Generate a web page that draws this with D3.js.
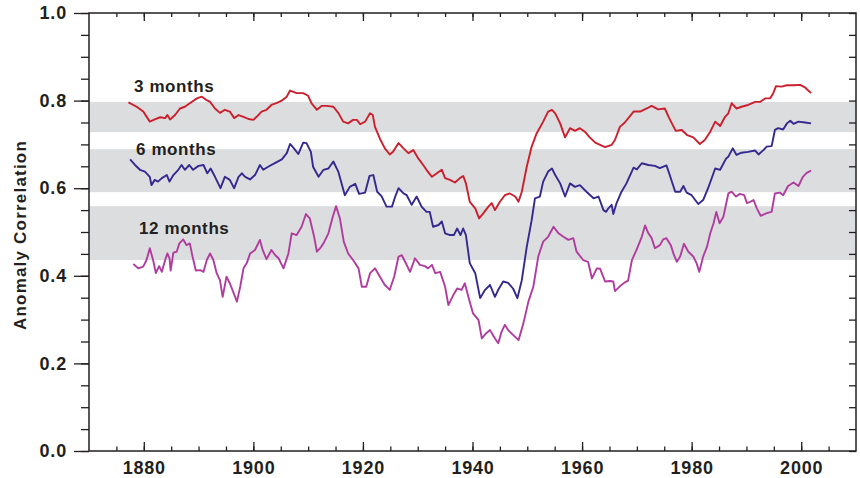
<!DOCTYPE html>
<html>
<head>
<meta charset="utf-8">
<script src="https://cdn.jsdelivr.net/npm/d3@7"></script>
<style>
  html, body { margin: 0; padding: 0; background: #fff; }
  svg { display: block; }
  text { font-family: "Liberation Sans", Arial, Helvetica, sans-serif; font-weight: bold; fill: #231f20; }
</style>
</head>
<body>
<svg id="chart" width="860" height="478"></svg>
<script>
// ---------------- data ----------------
const seriesNames = ["3 months", "6 months", "12 months"];

const years3 = [1877.2,1878.7,1879.9,1881.1,1882.0,1883.0,1883.9,1884.3,1884.8,1885.7,1886.6,1887.5,1888.4,1889.7,1890.6,1891.5,1892.1,1893.0,1893.9,1894.8,1895.7,1896.5,1897.3,1898.2,1899.1,1900.0,1900.6,1901.5,1902.4,1903.3,1904.3,1905.2,1906.1,1906.7,1907.3,1907.9,1909.1,1910.0,1910.6,1911.6,1912.5,1913.4,1914.6,1915.5,1916.4,1917.3,1918.2,1918.9,1919.5,1920.4,1921.3,1921.8,1922.2,1923.1,1924.0,1924.9,1925.5,1926.5,1927.4,1928.3,1929.2,1930.1,1931.0,1931.6,1932.6,1933.5,1934.4,1935.0,1935.9,1936.8,1937.7,1938.3,1938.8,1939.5,1940.5,1941.2,1942.0,1942.9,1943.5,1944.1,1945.0,1945.9,1946.8,1947.8,1948.4,1949.0,1949.9,1950.8,1951.7,1952.9,1953.8,1954.5,1955.1,1956.0,1956.9,1957.8,1958.7,1959.6,1960.5,1961.4,1962.4,1963.3,1964.2,1965.4,1966.0,1966.9,1967.8,1969.4,1970.6,1971.8,1972.7,1973.9,1975.1,1975.9,1977.1,1978.2,1979.2,1980.3,1981.5,1982.4,1983.4,1984.3,1985.2,1986.1,1986.7,1987.3,1988.2,1989.1,1990.3,1991.6,1992.5,1993.4,1994.3,1994.9,1995.4,1996.4,1997.4,1998.6,1999.8,2000.7,2001.8];
const vals3 = [.796,.786,.775,.752,.757,.762,.760,.767,.757,.767,.782,.786,.794,.805,.809,.801,.797,.782,.772,.779,.775,.760,.767,.763,.758,.756,.763,.775,.779,.790,.795,.800,.809,.823,.820,.817,.817,.811,.794,.779,.788,.788,.786,.772,.752,.748,.756,.756,.746,.752,.771,.767,.740,.713,.691,.677,.683,.703,.691,.680,.687,.668,.653,.642,.626,.634,.642,.623,.619,.613,.623,.628,.611,.569,.554,.531,.543,.558,.566,.550,.569,.584,.588,.581,.569,.592,.649,.695,.725,.752,.775,.779,.771,.748,.716,.737,.731,.737,.729,.716,.704,.699,.694,.699,.710,.740,.750,.775,.775,.782,.788,.780,.782,.760,.731,.733,.721,.716,.701,.710,.729,.752,.742,.763,.771,.794,.782,.786,.790,.797,.797,.805,.805,.817,.833,.832,.835,.835,.836,.830,.817];

const years6 = [1877.5,1878.4,1879.3,1880.2,1881.1,1881.4,1882.0,1882.6,1883.3,1884.2,1884.7,1885.4,1886.3,1886.9,1887.5,1888.3,1889.0,1890.0,1890.9,1891.6,1892.2,1893.0,1894.0,1894.8,1895.7,1896.5,1897.3,1897.9,1898.5,1899.4,1900.3,1901.2,1901.8,1902.7,1904.0,1905.2,1906.1,1906.7,1907.4,1908.2,1909.1,1909.7,1910.5,1910.9,1911.9,1912.8,1913.7,1914.6,1915.5,1916.7,1917.6,1918.6,1919.3,1920.4,1921.2,1921.9,1922.6,1923.4,1924.3,1925.3,1925.9,1926.5,1927.4,1928.0,1928.9,1929.8,1930.7,1931.6,1932.2,1932.8,1933.8,1934.4,1935.0,1935.9,1936.6,1937.2,1937.8,1938.3,1938.8,1939.5,1940.5,1941.4,1942.3,1943.2,1944.1,1944.7,1945.6,1946.5,1947.4,1948.2,1949.0,1949.9,1950.8,1951.4,1952.3,1952.9,1953.8,1954.5,1955.1,1956.0,1956.9,1957.8,1958.7,1959.6,1960.8,1962.1,1963.0,1963.9,1964.4,1964.8,1965.4,1965.7,1966.3,1967.2,1968.1,1969.4,1970.0,1970.9,1972.1,1973.3,1974.2,1975.4,1976.0,1977.0,1977.9,1978.5,1979.1,1980.0,1981.2,1982.1,1983.0,1984.3,1985.2,1986.3,1986.7,1987.5,1988.2,1989.1,1990.3,1991.6,1992.2,1993.1,1993.7,1994.6,1995.2,1995.8,1996.7,1997.4,1998.0,1998.6,1999.5,2000.7,2001.8];
const vals6 = [.666,.653,.642,.638,.626,.607,.619,.615,.623,.630,.615,.630,.642,.653,.642,.653,.642,.651,.653,.634,.645,.626,.600,.626,.619,.600,.626,.634,.626,.620,.630,.653,.642,.649,.658,.666,.680,.701,.691,.678,.704,.703,.683,.649,.626,.642,.645,.661,.638,.584,.603,.610,.587,.590,.628,.630,.592,.582,.558,.558,.581,.600,.588,.584,.562,.581,.558,.546,.546,.512,.516,.524,.497,.493,.493,.508,.493,.508,.493,.429,.406,.349,.368,.379,.352,.368,.387,.384,.371,.349,.390,.466,.527,.577,.581,.615,.638,.645,.630,.611,.581,.611,.603,.607,.592,.577,.581,.550,.546,.554,.562,.541,.566,.592,.611,.647,.643,.657,.653,.651,.646,.652,.630,.592,.592,.605,.590,.584,.564,.573,.600,.645,.642,.668,.672,.691,.676,.681,.683,.686,.677,.687,.695,.696,.733,.737,.734,.748,.754,.747,.752,.750,.748];

const years12 = [1878.1,1879.0,1879.9,1880.5,1881.1,1881.7,1882.2,1882.8,1883.3,1883.9,1884.3,1884.7,1884.9,1885.4,1886.0,1886.5,1887.2,1887.8,1888.4,1888.9,1889.5,1890.3,1890.9,1891.5,1892.1,1892.7,1893.3,1893.9,1894.4,1895.1,1895.7,1896.3,1897.0,1897.6,1898.2,1898.8,1899.4,1900.3,1901.2,1901.7,1902.4,1903.3,1904.0,1904.6,1905.5,1906.4,1907.0,1907.9,1908.8,1909.6,1910.3,1911.1,1911.6,1912.2,1912.8,1913.7,1914.5,1915.1,1915.8,1916.5,1917.3,1918.2,1919.2,1919.8,1920.6,1921.3,1922.2,1923.1,1924.0,1924.9,1925.7,1926.5,1927.1,1927.7,1928.6,1929.5,1930.4,1931.3,1931.9,1932.6,1933.2,1934.1,1935.0,1935.6,1936.5,1937.2,1938.0,1938.6,1939.4,1940.1,1941.1,1941.7,1942.5,1943.2,1944.1,1944.7,1945.3,1945.9,1946.5,1947.4,1948.4,1949.3,1950.2,1951.1,1952.0,1952.9,1953.8,1954.8,1955.7,1956.6,1957.5,1958.4,1959.0,1960.2,1961.1,1961.8,1962.7,1963.3,1964.2,1965.1,1965.7,1966.0,1966.9,1967.8,1968.4,1969.1,1969.9,1970.9,1971.5,1972.1,1972.7,1973.3,1974.2,1974.8,1975.4,1976.2,1976.7,1977.3,1977.9,1978.6,1979.4,1980.3,1980.9,1981.4,1982.1,1982.8,1983.4,1984.0,1984.5,1985.1,1985.8,1986.7,1987.3,1988.1,1988.8,1989.6,1990.1,1990.7,1991.3,1991.9,1992.6,1993.7,1994.6,1995.2,1996.1,1996.7,1997.6,1998.6,1999.5,2000.3,2001.0,2001.8];
const vals12 = [.427,.417,.421,.436,.463,.436,.406,.422,.409,.436,.451,.440,.412,.453,.455,.474,.483,.470,.474,.444,.412,.413,.409,.436,.451,.436,.406,.390,.352,.398,.383,.364,.341,.375,.417,.429,.451,.459,.482,.459,.438,.459,.447,.440,.417,.451,.497,.493,.512,.541,.531,.489,.455,.463,.474,.497,.535,.559,.531,.478,.451,.436,.417,.375,.375,.406,.417,.398,.379,.368,.398,.444,.447,.432,.409,.440,.425,.422,.417,.425,.406,.409,.375,.333,.356,.371,.368,.383,.345,.314,.299,.257,.269,.276,.257,.246,.272,.288,.276,.265,.253,.292,.341,.375,.444,.478,.489,.512,.497,.489,.482,.486,.455,.436,.432,.394,.417,.416,.387,.388,.387,.365,.376,.385,.389,.436,.458,.489,.515,.497,.486,.463,.470,.483,.486,.470,.450,.432,.444,.473,.455,.444,.429,.409,.444,.466,.497,.520,.546,.520,.535,.588,.592,.581,.587,.584,.566,.569,.573,.554,.537,.543,.546,.588,.590,.584,.605,.613,.605,.626,.635,.640];

// grey skill bands (low, high) for each lead time
const bandLow  = [0.728, 0.591, 0.436];
const bandHigh = [0.797, 0.689, 0.559];

const yTickLabels = ["0.0", "0.2", "0.4", "0.6", "0.8", "1.0"];
const xTickLabels = ["1880", "1900", "1920", "1940", "1960", "1980", "2000"];

// ---------------- drawing ----------------
const ink = "#231f20";
const colors = ["#cc1f2d", "#33298f", "#b03d9e"];
const W = 860, H = 478;
const margin = { left: 89, right: 4, top: 13, bottom: 27 };

const svg = d3.select("#chart");
const x = d3.scaleLinear().domain([1870, 2010]).range([margin.left, W - margin.right]);
const y = d3.scaleLinear().domain([0, 1]).range([H - margin.bottom, margin.top]);

const x0 = x.range()[0], x1 = x.range()[1], y0 = y.range()[0], y1 = y.range()[1];

// bands
svg.append("g").selectAll("rect").data(bandLow).join("rect")
  .attr("x", x0).attr("width", x1 - x0)
  .attr("y", (d, i) => y(bandHigh[i]))
  .attr("height", (d, i) => y(d) - y(bandHigh[i]))
  .attr("fill", "#dcdddf");

// lines
const allSeries = [
  years3.map((yr, i) => [yr, vals3[i]]),
  years6.map((yr, i) => [yr, vals6[i]]),
  years12.map((yr, i) => [yr, vals12[i]])
];
const line = d3.line().x(d => x(d[0])).y(d => y(d[1]));
svg.append("g").selectAll("path").data(allSeries).join("path")
  .attr("d", line)
  .attr("fill", "none")
  .attr("stroke", (d, i) => colors[i])
  .attr("stroke-width", 1.9)
  .attr("stroke-linejoin", "round");

// series labels
const labelPos = [[134, 92], [136, 155], [139, 234]];
svg.append("g").selectAll("text").data(seriesNames).join("text")
  .attr("x", (d, i) => labelPos[i][0])
  .attr("y", (d, i) => labelPos[i][1])
  .style("font-size", "17px")
  .style("letter-spacing", "0.6px")
  .text(d => d);

// axes
function styleAxis(g) {
  g.select(".domain").remove();
  g.selectAll("line").attr("stroke", ink).attr("stroke-width", 1.3);
  g.selectAll("text").style("font-size", "18px").style("letter-spacing", "0.8px")
    .attr("fill", ink).style("font-family", '"Liberation Sans", Arial, sans-serif').style("font-weight", "bold");
}
const yMinor = d3.range(0, 1.0001, 0.05).map(v => +v.toFixed(2));
const yMajor = yTickLabels.map(Number);
const xMinor = d3.range(1875, 2010, 5);
const xMajor = xTickLabels.map(Number);

// left
svg.append("g").attr("transform", `translate(${x0},0)`)
  .call(d3.axisLeft(y).tickValues(yMinor).tickSize(8).tickFormat(""))
  .call(styleAxis);
svg.append("g").attr("transform", `translate(${x0},0)`)
  .call(d3.axisLeft(y).tickValues(yMajor).tickSize(15).tickPadding(7).tickFormat((d, i) => yTickLabels[i]))
  .call(styleAxis);
// right
svg.append("g").attr("transform", `translate(${x1},0)`)
  .call(d3.axisRight(y).tickValues(yMinor).tickSize(-7).tickFormat(""))
  .call(styleAxis);
// bottom
svg.append("g").attr("transform", `translate(0,${y0})`)
  .call(d3.axisBottom(x).tickValues(xMinor).tickSize(-4.5).tickFormat(""))
  .call(styleAxis);
svg.append("g").attr("transform", `translate(0,${y0})`)
  .call(d3.axisBottom(x).tickValues(xMajor).tickSize(-9).tickPadding(10).tickFormat((d, i) => xTickLabels[i]))
  .call(styleAxis);
// top
svg.append("g").attr("transform", `translate(0,${y1})`)
  .call(d3.axisTop(x).tickValues(xMinor).tickSize(-4).tickFormat(""))
  .call(styleAxis);
svg.append("g").attr("transform", `translate(0,${y1})`)
  .call(d3.axisTop(x).tickValues(xMajor).tickSize(-8).tickFormat(""))
  .call(styleAxis);

// frame
svg.append("rect")
  .attr("x", x0).attr("y", y1).attr("width", x1 - x0).attr("height", y0 - y1)
  .attr("fill", "none").attr("stroke", ink).attr("stroke-width", 1.5);

// y title
svg.append("text")
  .attr("transform", `translate(26,${(y0 + y1) / 2 + 3}) rotate(-90)`)
  .attr("text-anchor", "middle")
  .style("font-size", "17px")
  .style("letter-spacing", "1.2px")
  .text("Anomaly Correlation");
</script>
</body>
</html>
